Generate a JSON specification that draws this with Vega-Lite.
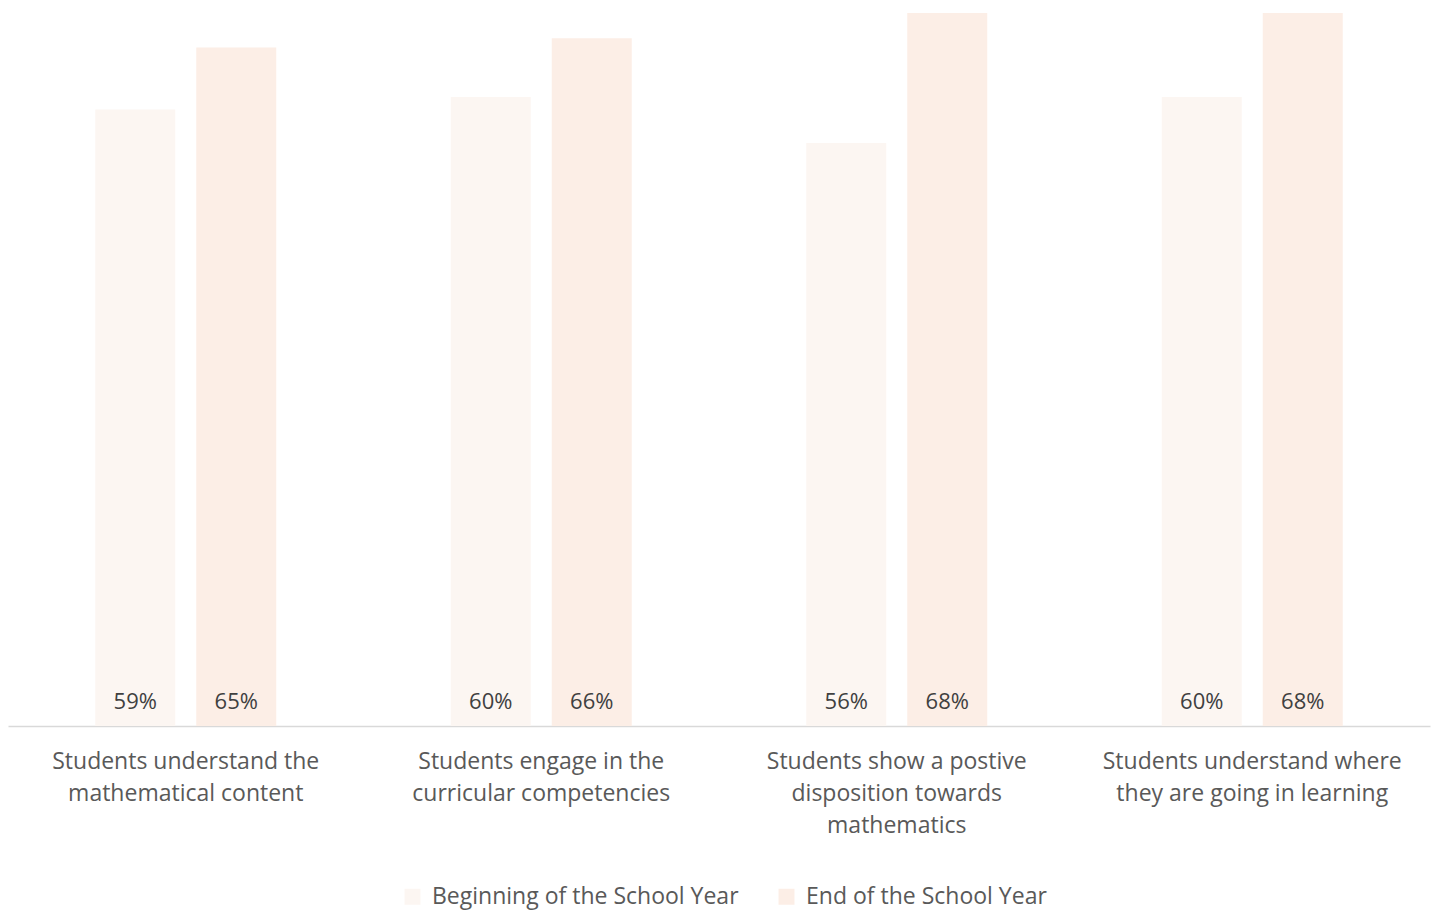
{
  "$schema": "https://vega.github.io/schema/vega-lite/v6.json",
  "autosize": {"type": "none"},
  "padding": {"left": 8, "top": 13, "right": 4, "bottom": 185},
  "width": 1422,
  "height": 713,
  "background": "white",
  "config": {"view": {"stroke": null}, "font": "Open Sans"},
  "data": {"values": [
    {"category": "Students understand the|mathematical content", "period": "Beginning of the School Year", "value": 0.588},
    {"category": "Students understand the|mathematical content", "period": "End of the School Year", "value": 0.647},
    {"category": "Students engage in the|curricular competencies", "period": "Beginning of the School Year", "value": 0.600},
    {"category": "Students engage in the|curricular competencies", "period": "End of the School Year", "value": 0.656},
    {"category": "Students show a postive|disposition towards|mathematics", "period": "Beginning of the School Year", "value": 0.556},
    {"category": "Students show a postive|disposition towards|mathematics", "period": "End of the School Year", "value": 0.680},
    {"category": "Students understand where|they are going in learning", "period": "Beginning of the School Year", "value": 0.600},
    {"category": "Students understand where|they are going in learning", "period": "End of the School Year", "value": 0.680}
  ]},
  "encoding": {
    "x": {"field": "category", "type": "nominal", "sort": null,
      "scale": {"paddingInner": 0, "paddingOuter": 0},
      "axis": {"title": null, "labelAngle": 0, "ticks": false, "domainColor": "#D9D9D9", "domainWidth": 1.5,
        "labelExpr": "split(datum.label, '|')", "labelFontSize": 23, "labelColor": "#595959",
        "labelLineHeight": 32, "labelPadding": 24, "labelLimit": 400}},
    "xOffset": {"field": "period", "type": "nominal", "sort": null,
      "scale": {"paddingInner": 0.208, "paddingOuter": 0.864}}
  },
  "layer": [
    {"mark": {"type": "bar"},
     "encoding": {
       "y": {"field": "value", "type": "quantitative", "scale": {"domain": [0, 0.68], "nice": false}, "axis": null},
       "color": {"field": "period", "type": "nominal", "sort": null,
         "scale": {"range": ["#FCF6F2", "#FCEEE6"]},
         "legend": {"title": null, "orient": "none", "legendX": 393, "legendY": 872, "direction": "horizontal", "symbolType": "square",
           "symbolSize": 256, "labelFontSize": 23, "labelColor": "#595959", "columnPadding": 36, "labelOffset": 8, "labelLimit": 400}}
     }},
    {"mark": {"type": "text", "baseline": "middle", "dy": -24, "fontSize": 22, "color": "#404040"},
     "encoding": {
       "y": {"datum": 0, "type": "quantitative"},
       "text": {"field": "value", "type": "quantitative", "format": ".0%"}
     }}
  ]
}
